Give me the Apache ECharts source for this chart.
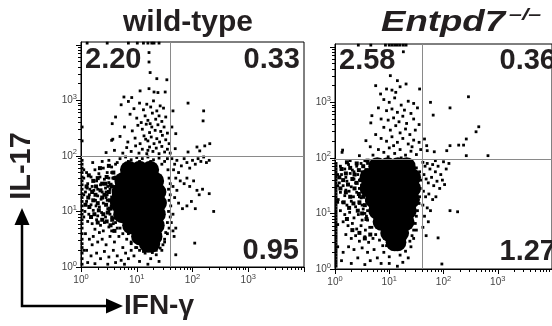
<!DOCTYPE html>
<html><head><meta charset="utf-8">
<script src="https://cdn.jsdelivr.net/npm/echarts@6/dist/echarts.min.js"></script>
<style>html,body{margin:0;padding:0;background:#fff}#c{width:552px;height:326px}</style>
</head><body><div id="c"></div>
<script>
// ---- data (log10 units of fluorescence: x = IFN-gamma, y = IL-17) ----
const panelTitles = ['wild-type', 'Entpd7', '\u2013/\u2013'];
const axisNames = ['IL-17', 'IFN-\u03b3'];
const decadeLabels = [0, 1, 2, 3];
const wtQuadrants = ['2.20', '0.33', '0.95'];
const koQuadrants = ['2.58', '0.36', '1.27'];
const wtGate = [1.6, 2.0];
const koGate = [1.6, 1.97];

const wtCore = [
 [0.86,1.75],[1.05,1.75],[1.24,1.75],
 [0.76,1.55],[0.95,1.55],[1.14,1.55],[1.33,1.55],
 [0.71,1.35],[0.9,1.35],[1.09,1.35],[1.28,1.35],[1.37,1.35],
 [0.68,1.15],[0.87,1.15],[1.06,1.15],[1.25,1.15],[1.38,1.15],
 [0.74,0.95],[0.93,0.95],[1.12,0.95],[1.31,0.95],[1.36,0.95],
 [0.9,0.75],[1.1,0.75],[1.3,0.75],[1.34,0.75],
 [1.06,0.55],[1.25,0.55],[1.3,0.55],
 [1.2,0.42],[1.26,0.42]
];
const wtDense = [
 [0.14,1.65],[0.22,1.55],[0.3,1.6],[0.38,1.5],[0.46,1.62],[0.53,1.48],[0.1,1.45],[0.2,1.35],[0.27,1.45],[0.35,1.38],
 [0.42,1.3],[0.5,1.35],[0.56,1.25],[0.13,1.25],[0.22,1.2],[0.3,1.15],[0.38,1.25],[0.45,1.12],[0.52,1.2],[0.6,1.05],
 [0.15,1.08],[0.24,0.95],[0.32,1.02],[0.4,0.95],[0.48,0.98],[0.56,0.85],[0.18,0.9],[0.3,0.8],[0.38,0.85],[0.46,0.82],
 [0.53,0.75],[0.6,0.65],[0.26,1.3],[0.44,1.5],[0.34,1.78],[0.5,1.82],[0.58,1.7],[0.08,1.12],[0.62,1.35],[0.65,1.5],
 [0.55,1.45],[0.52,1.05],[0.62,0.9],[0.6,1.6]
];
const wtDots = [
 // top pile-up
 [0.11,4.03],[0.47,4.03],[0.85,4.03],[1.01,4.03],[1.12,4.03],[1.2,4.03],[1.27,4.03],[1.31,4.03],[1.4,4.03],
 // upper-left quadrant
 [1.22,3.86],[1.22,3.69],[1.24,3.5],[1.36,3.39],[1.54,3.37],
 [0.77,3.06],[0.91,3.05],[1.06,3.17],[1.22,3.21],[1.31,3.15],[1.38,3.14],[1.51,3.15],
 [0.85,2.98],[1.05,2.95],[1.18,2.93],[1.3,2.99],[1.42,2.9],[0.72,2.92],
 [0.95,2.85],[1.12,2.83],[1.25,2.88],[1.36,2.81],[1.48,2.86],
 [0.62,2.7],[0.88,2.75],[1.0,2.68],[1.15,2.72],[1.2,2.64],[1.28,2.77],[1.34,2.66],[1.4,2.72],[1.45,2.62],[1.52,2.7],[1.08,2.6],
 [0.78,2.52],[0.92,2.45],[1.02,2.55],[1.1,2.48],[1.17,2.57],[1.23,2.42],[1.27,2.52],[1.33,2.46],[1.38,2.56],[1.43,2.44],[1.49,2.52],[1.55,2.41],[1.24,2.58],
 [0.55,2.28],[0.7,2.35],[0.84,2.25],[0.97,2.32],[1.06,2.22],[1.13,2.36],[1.2,2.27],[1.26,2.34],[1.31,2.22],[1.36,2.31],[1.41,2.25],[1.46,2.37],[1.52,2.29],[1.58,2.22],[1.16,2.3],
 [0.6,2.1],[0.75,2.05],[0.82,2.15],[0.9,2.08],[0.98,2.18],[1.04,2.05],[1.1,2.12],[1.18,2.04],[1.23,2.16],[1.29,2.08],[1.35,2.14],[1.4,2.04],[1.45,2.17],[1.5,2.07],[1.55,2.12],[1.6,2.05],[0.45,2.06],[1.2,2.1],
 [0.02,2.52],[0.02,2.27],[0.56,2.58],[0.57,2.3],
 // upper-right quadrant
 [1.92,2.95],[2.2,2.81],[2.19,2.63],[2.08,2.16],[2.22,2.18],[2.31,2.22],[2.13,2.09],[1.65,2.81],[1.63,2.52],[1.7,2.4],[1.92,2.07],[1.69,2.13],
 // lower-right tail
 [1.63,1.95],[1.68,1.85],[1.72,1.92],[1.66,1.75],[1.75,1.7],[1.8,1.82],[1.85,1.95],[1.9,1.88],[1.95,1.78],[2.0,1.92],[2.05,1.85],[2.1,1.95],[2.15,1.9],[2.2,1.98],[2.25,1.88],[2.3,1.92],
 [1.7,1.6],[1.78,1.55],[1.65,1.45],[1.72,1.38],[1.85,1.5],[1.9,1.6],[1.95,1.45],[2.02,1.55],[2.08,1.38],[2.12,1.3],[2.18,1.4],[2.3,1.32],[2.38,1.0],
 [1.68,1.25],[1.75,1.15],[1.82,1.05],[1.9,1.1],[1.98,1.18],[2.05,1.05],[1.65,0.95],[1.62,0.8],[1.7,0.7],[1.67,0.55],
 [2.04,0.43],[1.7,0.22],[1.65,0.65],
 // left lobe
 [0.1,1.7],[0.18,1.62],[0.25,1.75],[0.32,1.68],[0.4,1.78],[0.47,1.7],[0.55,1.8],[0.62,1.85],[0.12,1.5],[0.2,1.45],[0.28,1.55],[0.35,1.48],[0.42,1.58],[0.5,1.52],[0.57,1.6],
 [0.08,1.35],[0.15,1.3],[0.23,1.38],[0.3,1.28],[0.38,1.35],[0.45,1.25],[0.52,1.4],[0.58,1.3],[0.1,1.18],[0.18,1.12],[0.26,1.2],[0.33,1.08],[0.4,1.15],[0.48,1.05],[0.55,1.18],
 [0.07,1.0],[0.14,0.95],[0.22,1.02],[0.3,0.92],[0.37,0.98],[0.44,0.9],[0.52,0.95],[0.6,0.88],[0.12,0.82],[0.2,0.78],[0.28,0.85],[0.35,0.75],[0.42,0.8],[0.5,0.72],[0.58,0.78],[0.65,0.7],
 [0.16,1.4],[0.34,1.62],[0.44,1.42],[0.27,1.1],[0.47,1.3],[0.62,1.62],[0.6,1.45],[0.63,1.15],[0.66,1.0],[0.68,0.85],[0.05,1.6],[0.21,1.88],[0.38,1.9],[0.5,1.92],[0.3,1.4],[0.11,1.42],[0.36,1.22],[0.54,1.1],[0.25,0.68],[0.4,0.65],
 // lower-left
 [0.08,0.6],[0.15,0.5],[0.22,0.55],[0.3,0.45],[0.38,0.5],[0.45,0.4],[0.52,0.55],[0.6,0.45],[0.68,0.55],[0.75,0.35],[0.1,0.3],[0.18,0.2],[0.28,0.25],[0.35,0.15],[0.42,0.28],
 [0.5,0.18],[0.58,0.3],[0.65,0.2],[0.72,0.12],[0.8,0.25],[0.85,0.15],[0.9,0.3],[0.12,0.08],[0.25,0.06],[0.48,0.05],[0.62,0.08],[0.78,0.05],[0.2,0.4],[0.55,0.65],[0.33,0.62],
 [0.95,0.2],[1.05,0.1],[1.15,0.25],[1.25,0.15],[1.35,0.22],[1.45,0.3],[1.0,0.35],[1.2,0.05],[1.4,0.1],[1.3,0.35],[1.1,0.4],[0.9,0.45],[1.5,0.45],[1.55,0.6],[0.85,0.6],
 // axis pile-up column
 [0.02,0.05],[0.02,0.15],[0.02,0.25],[0.02,0.35],[0.02,0.42],[0.02,0.5],[0.02,0.6],[0.02,0.7],[0.02,0.78],[0.02,0.85],[0.02,0.95],[0.02,1.02],
 [0.02,1.1],[0.02,1.18],[0.02,1.25],[0.02,1.32],[0.02,1.4],[0.02,1.48],[0.02,1.55],[0.02,1.62],[0.02,1.7],[0.02,1.78],[0.02,1.85],[0.02,1.92],
 [0.05,0.3],[0.05,0.9],[0.05,1.3],[0.05,1.75],
 // halo
 [0.7,1.95],[0.8,1.98],[0.9,1.93],[1.0,1.97],[1.1,1.95],[1.2,1.98],[1.3,1.93],[1.4,1.96],[1.5,1.9],[0.65,1.88],[0.85,1.9],[1.05,1.9],[1.25,1.9],[1.45,1.85],[1.55,1.95],
 [1.56,1.75],[1.58,1.6],[1.6,1.5],[1.57,1.4],[1.6,1.3],[1.58,1.2],[1.61,1.1],[1.57,1.0],[1.6,0.9],[1.55,0.8],[1.58,0.7],[1.52,0.62],[1.5,0.5],[1.47,0.4],
 [0.55,1.7],[0.5,1.6],[0.48,1.45],[0.45,1.35],[0.47,1.2],[0.5,1.0],[0.55,0.9],[0.62,0.8],[0.7,0.7],[0.75,0.6],[0.82,0.5],[0.9,0.42],[0.98,0.35],
 [1.05,0.3],[1.12,0.28],[1.2,0.3],[1.28,0.26],[1.35,0.3],[1.42,0.34]
];

const koCore = [
 [0.78,1.85],[0.97,1.85],[1.16,1.85],[1.32,1.85],
 [0.62,1.65],[0.81,1.65],[1.0,1.65],[1.19,1.65],[1.38,1.65],[1.42,1.65],
 [0.62,1.45],[0.81,1.45],[1.0,1.45],[1.19,1.45],[1.38,1.45],[1.42,1.45],
 [0.72,1.25],[0.91,1.25],[1.1,1.25],[1.29,1.25],[1.4,1.25],
 [0.78,1.05],[0.97,1.05],[1.16,1.05],[1.34,1.05],
 [0.86,0.85],[1.05,0.85],[1.24,0.85],[1.3,0.85],
 [1.0,0.65],[1.2,0.65],
 [1.1,0.48],[1.15,0.48]
];
const koDense = [
 [0.12,1.8],[0.2,1.72],[0.28,1.82],[0.36,1.7],[0.44,1.78],[0.52,1.85],[0.15,1.6],[0.24,1.52],[0.32,1.62],[0.4,1.55],
 [0.48,1.6],[0.1,1.45],[0.2,1.38],[0.28,1.3],[0.36,1.45],[0.44,1.35],[0.52,1.3],[0.16,1.2],[0.26,1.1],[0.34,1.18],
 [0.42,1.05],[0.5,1.0],[0.58,0.9],[0.22,0.9],[0.32,0.7],[0.45,0.65],[0.55,0.55],[0.65,0.62],[0.58,1.78],[0.4,1.9],
 [0.22,1.92],[0.08,1.65],[0.5,1.5],[0.55,1.15],[0.6,1.95],[0.45,1.2]
];
const koDots = [
 // top pile-up
 [0.43,4.03],[0.66,4.03],[0.93,4.03],[1.0,4.03],[1.05,4.03],[1.1,4.03],[1.15,4.03],[1.2,4.03],[1.26,4.03],[1.31,4.03],
 // upper-left quadrant
 [1.26,3.91],[1.02,3.48],[1.15,3.39],[0.75,3.3],[0.84,3.15],[0.95,3.24],[1.05,3.22],[1.12,3.18],[1.31,3.33],[1.56,3.24],[1.2,3.28],[0.68,2.76],[0.66,2.63],[0.57,2.31],[0.14,2.14],
 [0.9,3.05],[1.0,3.0],[1.1,3.08],[1.22,2.95],[1.35,3.02],[1.45,2.98],[0.8,2.9],[0.95,2.85],[1.05,2.88],[1.15,2.82],[1.28,2.86],[1.4,2.8],[1.52,2.9],
 [0.85,2.7],[0.98,2.68],[1.08,2.72],[1.18,2.65],[1.25,2.75],[1.32,2.62],[1.45,2.7],[1.55,2.6],[0.9,2.55],[1.02,2.5],[1.12,2.58],[1.2,2.45],[1.3,2.52],[1.38,2.42],[1.48,2.5],
 [0.75,2.42],[0.85,2.35],[0.95,2.3],[1.05,2.38],[1.15,2.28],[1.25,2.35],[1.35,2.25],[1.45,2.32],[1.55,2.28],[0.65,2.2],[0.8,2.15],[0.9,2.1],[1.0,2.18],[1.1,2.08],[1.2,2.15],
 [1.3,2.05],[1.4,2.12],[1.5,2.06],[1.58,2.15],[0.7,2.05],[0.98,2.02],[1.22,2.0],[0.13,2.1],[0.45,2.04],[1.08,2.22],[1.42,2.2],
 // upper-right quadrant
 [1.76,3.0],[1.81,2.77],[2.12,2.9],[2.46,3.1],[2.65,2.56],[2.6,2.47],[2.42,2.34],[2.37,2.23],[2.28,2.23],[2.12,2.22],[2.06,2.13],[1.69,2.22],[1.65,2.34],[1.7,2.13],[1.83,2.11],[2.82,2.04],[2.42,2.04],
 // lower-right
 [1.62,1.92],[1.66,1.85],[1.7,1.9],[1.75,1.8],[1.8,1.88],[1.85,1.75],[1.9,1.85],[1.95,1.7],[1.64,1.7],[1.68,1.62],[1.72,1.55],[1.78,1.65],[1.82,1.5],[1.88,1.58],[1.93,1.45],[1.98,1.6],[2.02,1.52],
 [1.63,1.4],[1.67,1.3],[1.73,1.35],[1.8,1.25],[1.86,1.3],[1.62,1.15],[1.7,1.1],[1.76,1.05],[1.65,0.95],[1.72,0.85],[1.62,0.75],[1.68,0.6],[2.12,1.05],[2.26,1.03],[1.9,0.56],[1.97,0.09],
 [2.05,1.8],[2.1,1.9],[1.85,1.95],[2.0,1.93],
 // left lobe and lower-left
 [0.1,1.85],[0.18,1.8],[0.25,1.88],[0.32,1.78],[0.4,1.85],[0.48,1.9],[0.55,1.95],[0.12,1.7],[0.2,1.65],[0.28,1.72],[0.35,1.62],[0.42,1.7],[0.5,1.75],
 [0.08,1.55],[0.15,1.5],[0.22,1.58],[0.3,1.48],[0.38,1.55],[0.45,1.45],[0.52,1.55],[0.1,1.38],[0.18,1.32],[0.26,1.4],[0.34,1.3],[0.4,1.38],[0.48,1.28],
 [0.14,1.2],[0.22,1.15],[0.3,1.22],[0.38,1.12],[0.45,1.18],[0.52,1.08],[0.1,1.05],[0.18,0.98],[0.27,1.02],[0.35,0.92],[0.43,0.98],[0.5,0.88],[0.58,0.95],
 [0.15,0.85],[0.24,0.78],[0.32,0.82],[0.4,0.72],[0.48,0.78],[0.56,0.7],[0.64,0.75],[0.2,0.62],[0.3,0.55],[0.38,0.6],[0.45,0.5],[0.55,0.58],[0.62,0.48],[0.7,0.55],
 [0.25,0.4],[0.35,0.35],[0.5,0.38],[0.6,0.3],[0.72,0.35],[0.15,0.3],[0.42,0.2],[0.65,0.15],[0.78,0.2],[0.3,0.1],[0.55,0.08],[0.85,0.1],[0.12,0.15],
 [0.6,1.9],[0.28,1.95],[0.45,1.6],[0.35,1.75],[0.2,1.42],[0.06,1.25],[0.58,1.22],[0.6,1.05],
 [0.9,0.3],[1.0,0.22],[1.1,0.35],[1.2,0.25],[1.3,0.32],[1.4,0.4],[1.0,0.1],[1.15,0.05],[1.25,0.12],[0.95,0.42],[1.35,0.2],[1.45,0.55],[1.5,0.7],
 // axis pile-up bar
 [0.02,0.05],[0.02,0.1],[0.02,0.15],[0.02,0.2],[0.02,0.25],[0.02,0.3],[0.02,0.35],[0.02,0.4],[0.02,0.45],[0.02,0.5],[0.02,0.55],[0.02,0.6],[0.02,0.65],
 [0.02,0.7],[0.02,0.75],[0.02,0.8],[0.02,0.85],[0.02,0.9],[0.02,0.95],[0.02,1.0],[0.02,1.05],[0.02,1.1],[0.02,1.15],[0.02,1.2],[0.02,1.25],[0.02,1.3],
 [0.02,1.35],[0.02,1.4],[0.02,1.45],[0.02,1.5],[0.02,1.55],[0.02,1.6],[0.02,1.65],[0.02,1.7],[0.02,1.75],[0.02,1.8],[0.02,1.85],[0.02,1.9],
 [0.05,0.4],[0.05,0.8],[0.05,1.2],[0.05,1.5],[0.05,1.7],
 // halo
 [0.7,1.92],[0.8,1.96],[0.9,1.93],[1.0,1.95],[1.1,1.92],[1.2,1.95],[1.3,1.9],[1.4,1.88],[1.5,1.82],[0.65,1.8],
 [1.56,1.75],[1.58,1.6],[1.57,1.45],[1.56,1.3],[1.55,1.18],[1.52,1.05],[1.5,0.95],[1.48,0.82],[1.45,0.7],[1.42,0.6],[1.38,0.5],
 [0.45,1.3],[0.5,1.15],[0.55,1.0],[0.6,0.88],[0.68,0.75],[0.75,0.62],[0.82,0.52],[0.88,0.42]
];

// ---- chart ----
const FONT = 'Liberation Sans, Arial, sans-serif';
const minorTicks = [];
for (let n = 0; n < 4; n++) for (let k = 2; k <= 9; k++) minorTicks.push(n + Math.log10(k));
const majorTicks = [0, 1, 2, 3, 4];

const grids = [
  {left: 81, top: 42, width: 223, height: 225},
  {left: 335, top: 44, width: 223, height: 225}
];
function labelFmt(v) { return '{b|10}{s|' + Math.round(v) + '}'; }
const labRich = {
  b: {fontSize: 10, color: '#444', fontFamily: FONT},
  s: {fontSize: 7.5, color: '#444', fontFamily: FONT, padding: [0, 0, 7, 0]}
};
const xAxes = [], yAxes = [];
grids.forEach((g, i) => {
  xAxes.push({gridIndex: i, type: 'value', min: 0, max: 4, position: 'bottom',
    axisLine: {lineStyle: {color: '#000', width: 1}},
    axisTick: {show: true, length: 5, inside: false, customValues: majorTicks, lineStyle: {color: '#000'}},
    axisLabel: {customValues: decadeLabels, formatter: labelFmt, rich: labRich, margin: 6},
    splitLine: {show: false}});
  xAxes.push({gridIndex: i, type: 'value', min: 0, max: 4, position: 'bottom',
    axisLine: {show: false},
    axisTick: {show: true, length: 3, customValues: minorTicks, lineStyle: {color: '#000'}},
    axisLabel: {show: false}, splitLine: {show: false}});
  yAxes.push({gridIndex: i, type: 'value', min: 0, max: 4.05, position: 'left',
    axisLine: {lineStyle: {color: '#000', width: 1}},
    axisTick: {show: true, length: 5, customValues: majorTicks, lineStyle: {color: '#000'}},
    axisLabel: {customValues: decadeLabels, formatter: labelFmt, rich: labRich, margin: 4},
    splitLine: {show: false}});
  yAxes.push({gridIndex: i, type: 'value', min: 0, max: 4.05, position: 'left',
    axisLine: {show: false},
    axisTick: {show: true, length: 3, customValues: minorTicks, lineStyle: {color: '#000'}},
    axisLabel: {show: false}, splitLine: {show: false}});
});

function gateLines(gate) {
  return {silent: true, symbol: 'none', label: {show: false},
    lineStyle: {color: '#8a8a8a', width: 1, type: 'solid'},
    data: [{xAxis: gate[0]}, {yAxis: gate[1]}]};
}
const dotStyle = {color: '#000', opacity: 1};
const series = [];
[[wtCore, wtDense, wtDots, wtGate], [koCore, koDense, koDots, koGate]].forEach((p, i) => {
  series.push({type: 'scatter', xAxisIndex: 2 * i, yAxisIndex: 2 * i, data: p[0],
    symbol: 'circle', symbolSize: 18, itemStyle: dotStyle, silent: true, z: 3,
    markLine: gateLines(p[3])});
  series.push({type: 'scatter', xAxisIndex: 2 * i, yAxisIndex: 2 * i, data: p[1],
    symbol: 'rect', symbolSize: 4, itemStyle: dotStyle, silent: true, z: 3});
  series.push({type: 'scatter', xAxisIndex: 2 * i, yAxisIndex: 2 * i, data: p[2],
    symbol: 'rect', symbolSize: 2.8, itemStyle: dotStyle, silent: true, z: 3});
});

const big = {fontFamily: FONT, fontWeight: 'bold', fill: '#231f20'};
const graphic = [
  {type: 'text', left: 123, top: 8, style: Object.assign({text: panelTitles[0], fontSize: 30}, big)},
  {type: 'text', x: 381, y: 8, scaleX: 1.22, style: Object.assign({text: panelTitles[1], fontSize: 30, fontStyle: 'italic'}, big)},
  {type: 'text', x: 509, y: 8, scaleX: 1.45, style: Object.assign({text: panelTitles[2], fontSize: 16, fontStyle: 'italic'}, big)},
  // quadrant percentages
  {type: 'text', x: 85, y: 45, style: Object.assign({text: wtQuadrants[0], fontSize: 29}, big)},
  {type: 'text', x: 300, y: 45, style: Object.assign({text: wtQuadrants[1], fontSize: 29, align: 'right'}, big)},
  {type: 'text', x: 299, y: 265, style: Object.assign({text: wtQuadrants[2], fontSize: 29, align: 'right', verticalAlign: 'bottom'}, big)},
  {type: 'text', x: 339, y: 46, style: Object.assign({text: koQuadrants[0], fontSize: 29}, big)},
  {type: 'text', x: 556, y: 46, style: Object.assign({text: koQuadrants[1], fontSize: 29, align: 'right'}, big)},
  {type: 'text', x: 556, y: 266, style: Object.assign({text: koQuadrants[2], fontSize: 29, align: 'right', verticalAlign: 'bottom'}, big)},
  // axis arrows
  {type: 'polyline', shape: {points: [[22, 222], [22, 306], [108, 306]]}, style: {stroke: '#000', lineWidth: 2.5, fill: null}},
  {type: 'polygon', shape: {points: [[22, 208], [14.5, 225], [29.5, 225]]}, style: {fill: '#000'}},
  {type: 'polygon', shape: {points: [[123, 306], [106, 298.5], [106, 313.5]]}, style: {fill: '#000'}},
  {type: 'text', x: 124, y: 306, style: Object.assign({text: axisNames[1], fontSize: 28, verticalAlign: 'middle'}, big)},
  {type: 'text', x: 22, y: 166, rotation: Math.PI / 2, style: Object.assign({text: axisNames[0], fontSize: 29, align: 'center', verticalAlign: 'middle'}, big)}
];

const chart = echarts.init(document.getElementById('c'), null, {renderer: 'canvas'});
chart.setOption({
  animation: false,
  backgroundColor: '#fff',
  grid: grids.map(g => Object.assign({show: true, borderColor: '#000', borderWidth: 1, backgroundColor: 'transparent'}, g)),
  xAxis: xAxes, yAxis: yAxes, series: series, graphic: graphic
});
</script></body></html>
